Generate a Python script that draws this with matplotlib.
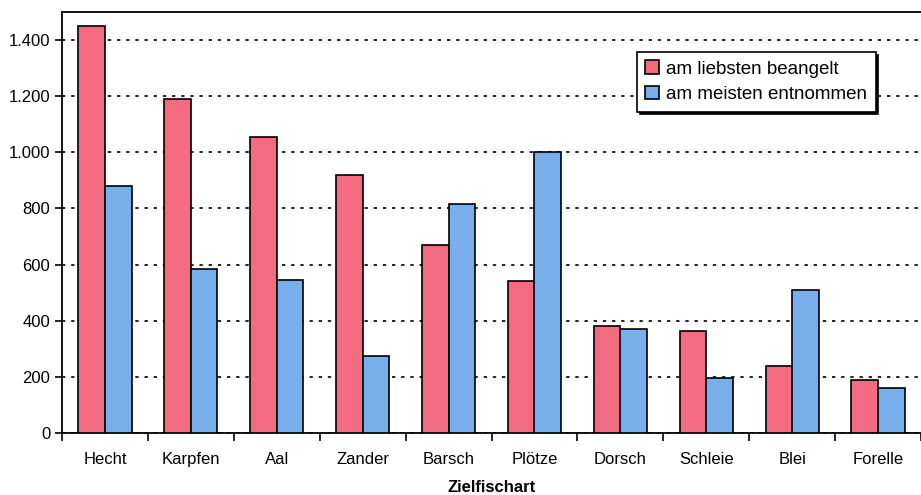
import matplotlib
matplotlib.use("Agg")
import matplotlib.pyplot as plt
import numpy as np
from matplotlib.ticker import FuncFormatter, FixedLocator

plt.rcParams['font.family'] = ['Liberation Sans', 'DejaVu Sans']

categories = ["Hecht", "Karpfen", "Aal", "Zander", "Barsch", "Plötze",
              "Dorsch", "Schleie", "Blei", "Forelle"]
beangelt = [1450, 1190, 1055, 920, 670, 540, 380, 365, 240, 190]
entnommen = [880, 585, 545, 275, 815, 1000, 370, 195, 510, 160]
series_names = ["am liebsten beangelt", "am meisten entnommen"]

fig = plt.figure(figsize=(9.21, 4.95), dpi=100)
ax = fig.add_axes([62/921, 62/495, 859/921, 421/495])

x = np.arange(len(categories))
w = 0.31
ax.bar(x - w/2, beangelt, w, color="#F26B80", edgecolor="black", linewidth=1.2,
       label=series_names[0], zorder=3)
ax.bar(x + w/2, entnommen, w, color="#78AEEC", edgecolor="black", linewidth=1.2,
       label=series_names[1], zorder=3)

ax.set_xlim(-0.5, len(categories) - 0.5)
ax.set_ylim(0, 1500)
ax.set_yticks(np.arange(0, 1401, 200))
ax.yaxis.set_major_formatter(FuncFormatter(lambda v, p: f"{int(v):,}".replace(",", ".")))
ax.yaxis.grid(True, linestyle=(0, (2, 3.5)), color="black", linewidth=1.2, zorder=0)
ax.set_axisbelow(True)

ax.set_xticks(x)
ax.set_xticklabels(categories, fontsize=12)
ax.tick_params(axis="x", which="major", length=0, pad=14)
ax.xaxis.set_minor_locator(FixedLocator(np.arange(-0.5, len(categories), 1)))
ax.tick_params(axis="x", which="minor", length=6, width=1.2, direction="out")
ax.tick_params(axis="y", labelsize=12, length=5, width=1.2, direction="out")

for s in ["left", "bottom", "top"]:
    ax.spines[s].set_linewidth(1.3)
ax.spines["right"].set_visible(False)

ax.set_xlabel("Zielfischart", fontsize=12, fontweight="bold")
ax.xaxis.set_label_coords(0.5, -(480 - 433) / 421)

leg = ax.legend(loc="upper left", bbox_to_anchor=(575/859, 1 - 40/421), fontsize=13.5,
                frameon=True, fancybox=False, shadow={'color': 'black', 'alpha': 1},
                edgecolor="black", framealpha=1, handlelength=0.7, handleheight=0.7,
                handletextpad=0.4, borderpad=0.45, labelspacing=0.45, borderaxespad=0)
leg.get_frame().set_linewidth(1.2)

fig.savefig("out.png", dpi=100)
